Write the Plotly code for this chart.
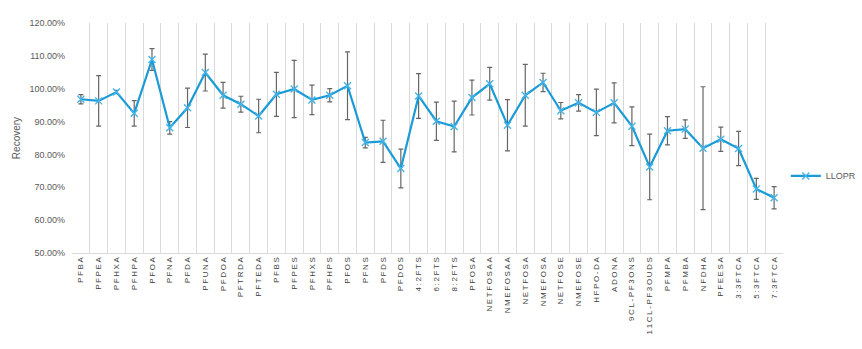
import plotly.graph_objects as go

categories = ["PFBA", "PFPEA", "PFHXA", "PFHPA", "PFOA", "PFNA", "PFDA", "PFUNA", "PFDOA",
              "PFTRDA", "PFTEDA", "PFBS", "PFPES", "PFHXS", "PFHPS", "PFOS", "PFNS", "PFDS",
              "PFDOS", "4:2FTS", "6:2FTS", "8:2FTS", "PFOSA", "NETFOSAA", "NMEFOSAA", "NETFOSA",
              "NMEFOSA", "NETFOSE", "NMEFOSE", "HFPO-DA", "ADONA", "9CL-PF3ONS", "11CL-PF3OUDS",
              "PFMPA", "PFMBA", "NFDHA", "PFEESA", "3:3FTCA", "5:3FTCA", "7:3FTCA"]

# Recovery (%) for series LLOPR
recovery = [96.8, 96.3, 99.0, 92.5, 108.9, 88.1, 94.2, 104.9, 98.0, 95.3,
            91.7, 98.3, 99.9, 96.6, 98.0, 100.9, 83.6, 84.0, 75.7, 97.8,
            90.1, 88.5, 97.3, 101.5, 88.9, 98.0, 101.9, 93.3, 95.7, 92.8,
            95.7, 88.6, 76.2, 87.2, 87.7, 81.9, 84.6, 81.8, 69.5, 66.8]

# Error (± %)
error = [1.4, 7.7, 0.5, 3.9, 3.3, 1.9, 6.0, 5.6, 3.9, 2.4,
         5.1, 6.7, 8.7, 4.5, 2.0, 10.3, 1.6, 6.4, 5.9, 6.8,
         5.8, 7.7, 5.3, 5.0, 7.8, 9.4, 2.8, 2.5, 2.5, 7.1,
         6.1, 5.9, 10.0, 4.3, 2.8, 18.7, 3.7, 5.2, 3.2, 3.4]

series_name = "LLOPR"
y_title = "Recovery"

tick_text = ["\u2009".join(list(c)) for c in categories]

fig = go.Figure()
fig.add_trace(go.Scatter(
    x=categories,
    y=[v / 100 for v in recovery],
    name=series_name,
    mode="lines+markers",
    line=dict(color="#1a9bd7", width=2.2),
    marker=dict(symbol="x-thin", size=7, line=dict(color="#45b5e8", width=1.4), color="#45b5e8"),
    error_y=dict(type="data", array=[e / 100 for e in error], visible=True,
                 color="#666666", thickness=1.2, width=2.5),
))

fig.update_layout(
    width=862, height=349,
    margin=dict(l=72, r=79, t=23, b=96, autoexpand=False),
    paper_bgcolor="white", plot_bgcolor="white",
    font=dict(family="Arial, Liberation Sans, sans-serif", color="#595959"),
    showlegend=True,
    legend=dict(x=1.004, xanchor="left", y=0.335, yanchor="middle",
                font=dict(size=9, color="#595959"), bgcolor="rgba(0,0,0,0)",
                itemwidth=30, tracegroupgap=0),
    xaxis=dict(
        type="category",
        tickmode="array", tickvals=categories, ticktext=tick_text,
        tickangle=-90, tickfont=dict(size=8, color="#404040"),
        tickson="boundaries", ticks="",
        showgrid=True, gridcolor="#d9d9d9", gridwidth=1.2,
        showline=True, linecolor="#d9d9d9", linewidth=1,
        range=[-0.5, len(categories) - 0.5],
        automargin=False,
    ),
    yaxis=dict(
        range=[0.5, 1.2], dtick=0.1, tick0=0.5, tickformat=".2%",
        tickfont=dict(size=9, color="#595959"),
        showgrid=False, zeroline=False, showline=False,
        ticks="", ticklabelstandoff=6,
        title=dict(text=y_title, font=dict(size=10, color="#595959"), standoff=6),
        automargin=False,
    ),
)

fig.write_html("out.html")
